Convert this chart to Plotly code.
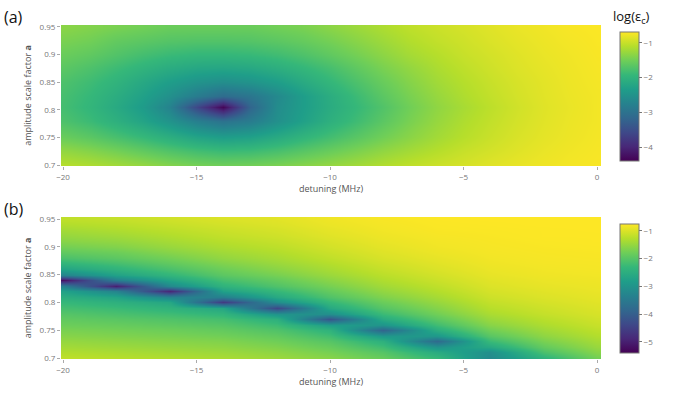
import numpy as np
import plotly.graph_objects as go

# ---------------- data ----------------
# panel (a): detuning columns (MHz) and amplitude-scale-factor rows
det_a = [-20, -19, -18, -17, -16, -15, -14, -13, -12, -11, -10,
         -9, -8, -7, -6, -5, -4, -3, -2, -1, 0]
amp_a = [0.70, 0.725, 0.75, 0.78, 0.805, 0.825, 0.85, 0.875, 0.90, 0.925, 0.95]
z_a = [
    [-1.10, -1.15, -1.22, -1.30, -1.40, -1.48, -1.52, -1.50, -1.45, -1.38, -1.30, -1.22, -1.13, -1.05, -0.98, -0.92, -0.86, -0.81, -0.77, -0.74, -0.72],
    [-1.30, -1.38, -1.48, -1.60, -1.72, -1.82, -1.88, -1.86, -1.78, -1.67, -1.55, -1.43, -1.31, -1.20, -1.10, -1.00, -0.93, -0.86, -0.80, -0.76, -0.73],
    [-1.55, -1.65, -1.78, -1.92, -2.08, -2.25, -2.35, -2.30, -2.15, -1.98, -1.82, -1.66, -1.50, -1.35, -1.21, -1.09, -0.99, -0.90, -0.83, -0.78, -0.74],
    [-1.75, -1.88, -2.05, -2.25, -2.50, -2.80, -3.00, -2.85, -2.55, -2.30, -2.05, -1.85, -1.65, -1.45, -1.28, -1.14, -1.03, -0.93, -0.85, -0.79, -0.75],
    [-1.82, -1.96, -2.15, -2.38, -2.75, -3.60, -4.35, -3.20, -2.60, -2.35, -2.12, -1.92, -1.72, -1.50, -1.32, -1.18, -1.06, -0.95, -0.86, -0.80, -0.75],
    [-1.80, -1.93, -2.10, -2.30, -2.55, -2.85, -3.10, -2.95, -2.65, -2.35, -2.10, -1.87, -1.65, -1.45, -1.28, -1.14, -1.03, -0.93, -0.85, -0.79, -0.75],
    [-1.75, -1.86, -2.00, -2.18, -2.35, -2.50, -2.58, -2.50, -2.35, -2.15, -1.95, -1.75, -1.56, -1.38, -1.22, -1.10, -1.00, -0.91, -0.84, -0.78, -0.74],
    [-1.65, -1.75, -1.87, -2.00, -2.12, -2.20, -2.22, -2.18, -2.08, -1.95, -1.80, -1.62, -1.45, -1.30, -1.16, -1.05, -0.96, -0.88, -0.82, -0.77, -0.73],
    [-1.55, -1.62, -1.72, -1.82, -1.90, -1.95, -1.95, -1.92, -1.85, -1.75, -1.62, -1.48, -1.34, -1.20, -1.10, -1.00, -0.93, -0.86, -0.80, -0.76, -0.72],
    [-1.45, -1.50, -1.60, -1.65, -1.70, -1.72, -1.72, -1.70, -1.65, -1.58, -1.48, -1.36, -1.24, -1.12, -1.03, -0.96, -0.89, -0.83, -0.78, -0.74, -0.71],
    [-1.35, -1.40, -1.45, -1.50, -1.55, -1.55, -1.55, -1.55, -1.50, -1.45, -1.35, -1.25, -1.15, -1.05, -0.98, -0.92, -0.86, -0.80, -0.76, -0.72, -0.70],
]

# panel (b): columns every 2 MHz, each list runs over amp_b (0.70 ... 0.95)
det_b = [-20, -18, -16, -14, -12, -10, -8, -6, -4, -2, 0]
amp_b = [0.70, 0.71, 0.72, 0.73, 0.74, 0.75, 0.76, 0.77, 0.78, 0.79, 0.80, 0.81, 0.82,
         0.83, 0.84, 0.85, 0.86, 0.87, 0.88, 0.89, 0.90, 0.91, 0.92, 0.93, 0.94, 0.95]
col_m20 = [-1.20, -1.30, -1.40, -1.50, -1.60, -1.70, -1.80, -1.90, -2.00, -2.15, -2.30, -2.50, -2.75,
           -3.40, -5.20, -3.30, -2.70, -2.35, -2.10, -1.90, -1.75, -1.60, -1.50, -1.40, -1.30, -1.20]
col_m18 = [-1.25, -1.35, -1.45, -1.55, -1.65, -1.75, -1.85, -1.97, -2.10, -2.25, -2.45, -2.70, -3.30,
           -5.00, -3.40, -2.75, -2.40, -2.15, -1.95, -1.80, -1.65, -1.52, -1.42, -1.32, -1.24, -1.16]
col_m16 = [-1.30, -1.40, -1.50, -1.60, -1.70, -1.80, -1.92, -2.05, -2.20, -2.40, -2.65, -3.30, -4.90,
           -3.20, -2.70, -2.35, -2.10, -1.90, -1.75, -1.60, -1.48, -1.38, -1.30, -1.22, -1.15, -1.08]
col_m14 = [-1.35, -1.45, -1.55, -1.65, -1.76, -1.88, -2.00, -2.15, -2.35, -2.65, -4.60, -3.40, -2.75,
           -2.40, -2.15, -1.95, -1.80, -1.65, -1.52, -1.42, -1.33, -1.25, -1.18, -1.12, -1.06, -1.00]
col_m12 = [-1.45, -1.55, -1.66, -1.78, -1.90, -2.05, -2.22, -2.45, -3.00, -4.40, -3.10, -2.60, -2.30,
           -2.05, -1.88, -1.72, -1.58, -1.46, -1.37, -1.29, -1.22, -1.15, -1.09, -1.04, -0.99, -0.95]
col_m10 = [-1.60, -1.72, -1.85, -2.00, -2.18, -2.40, -2.80, -4.20, -3.10, -2.60, -2.30, -2.05, -1.87,
           -1.72, -1.58, -1.46, -1.36, -1.27, -1.19, -1.12, -1.06, -1.01, -0.96, -0.92, -0.88, -0.85]
col_m8 = [-1.85, -2.00, -2.20, -2.45, -2.90, -3.90, -3.00, -2.55, -2.25, -2.00, -1.82, -1.66, -1.52,
          -1.41, -1.31, -1.23, -1.15, -1.08, -1.02, -0.97, -0.93, -0.89, -0.86, -0.83, -0.81, -0.79]
col_m6 = [-2.30, -2.55, -3.00, -3.80, -2.95, -2.50, -2.20, -1.95, -1.77, -1.62, -1.49, -1.38, -1.28,
          -1.20, -1.12, -1.06, -1.00, -0.95, -0.91, -0.87, -0.84, -0.82, -0.80, -0.78, -0.77, -0.76]
col_m4 = [-3.20, -3.10, -2.60, -2.25, -1.98, -1.77, -1.60, -1.46, -1.35, -1.25, -1.17, -1.10, -1.04,
          -0.99, -0.95, -0.91, -0.88, -0.85, -0.83, -0.81, -0.80, -0.79, -0.78, -0.77, -0.76, -0.75]
col_m2 = [-2.40, -2.10, -1.88, -1.70, -1.55, -1.43, -1.33, -1.24, -1.16, -1.10, -1.04, -0.99, -0.95,
          -0.91, -0.88, -0.85, -0.83, -0.81, -0.80, -0.79, -0.78, -0.77, -0.76, -0.76, -0.75, -0.75]
col_0 = [-1.75, -1.60, -1.48, -1.38, -1.29, -1.21, -1.14, -1.08, -1.03, -0.99, -0.95, -0.92, -0.89,
         -0.87, -0.85, -0.83, -0.81, -0.80, -0.79, -0.78, -0.77, -0.76, -0.76, -0.75, -0.75, -0.75]

x_ticks = [-20, -15, -10, -5, 0]
y_ticks = [0.7, 0.75, 0.8, 0.85, 0.9, 0.95]
cb_ticks_a = [-1, -2, -3, -4]
cb_ticks_b = [-1, -2, -3, -4, -5]

# ---------------- figure ----------------
z_b = np.array([col_m20, col_m18, col_m16, col_m14, col_m12, col_m10,
                col_m8, col_m6, col_m4, col_m2, col_0]).T

W, H = 673, 395
def px_x(p):
    return p / W
def px_y(p):
    return 1 - p / H

FONT = "Open Sans, DejaVu Sans, sans-serif"
tick_font = dict(family=FONT, size=8, color="#777")
title_font = dict(family=FONT, size=9, color="#555")

def cbar(top, bottom, ticks):
    return dict(
        x=px_x(620), xanchor="left", xpad=0, thickness=19,
        y=px_y(top), yanchor="top", ypad=0, len=(bottom - top) / H, lenmode="fraction",
        outlinewidth=1, outlinecolor="#777",
        tickvals=ticks, ticks="outside", ticklen=3, tickcolor="#777",
        tickfont=tick_font,
    )

fig = go.Figure()
fig.add_trace(go.Heatmap(
    x=det_a, y=amp_a, z=z_a, colorscale="Viridis", zmin=-4.4, zmax=-0.69,
    zsmooth="best", xaxis="x", yaxis="y", colorbar=cbar(32, 161, cb_ticks_a),
))
fig.add_trace(go.Heatmap(
    x=det_b, y=amp_b, z=z_b, colorscale="Viridis", zmin=-5.4, zmax=-0.75,
    zsmooth="best", xaxis="x2", yaxis="y2", colorbar=cbar(224, 353, cb_ticks_b),
))

xdom = [px_x(61), px_x(601)]
xaxis_common = dict(
    domain=xdom, range=[-20.075, 0.15], tickvals=x_ticks, automargin=False,
    ticks="outside", ticklen=3, tickcolor="#aaa", tickfont=tick_font,
    showgrid=False, zeroline=False, showline=False,
    title=dict(text="detuning (MHz)", font=title_font, standoff=4),
)
yaxis_common = dict(
    range=[0.6982, 0.9536], tickvals=y_ticks, automargin=False,
    ticks="outside", ticklen=3, tickcolor="#aaa", tickfont=tick_font,
    showgrid=False, zeroline=False, showline=False,
    title=dict(text="amplitude scale factor <b>a</b>", font=title_font, standoff=6),
)

fig.update_layout(
    width=W, height=H,
    margin=dict(l=0, r=0, t=0, b=0, autoexpand=False),
    paper_bgcolor="white", plot_bgcolor="white",
    xaxis=dict(**xaxis_common, anchor="y"),
    yaxis=dict(**yaxis_common, domain=[px_y(166), px_y(25)], anchor="x"),
    xaxis2=dict(**xaxis_common, anchor="y2"),
    yaxis2=dict(**yaxis_common, domain=[px_y(359), px_y(217)], anchor="x2"),
    annotations=[
        dict(text="(a)", x=px_x(2), y=px_y(4), xref="paper", yref="paper",
             xanchor="left", yanchor="top", showarrow=False,
             font=dict(family=FONT, size=16, color="#111")),
        dict(text="(b)", x=px_x(2), y=px_y(196), xref="paper", yref="paper",
             xanchor="left", yanchor="top", showarrow=False,
             font=dict(family=FONT, size=16, color="#111")),
        dict(text="log(ε<sub>c</sub>)", x=px_x(631), y=px_y(29), xref="paper", yref="paper",
             xanchor="center", yanchor="bottom", showarrow=False,
             font=dict(family=FONT, size=13, color="#111")),
    ],
)

fig.write_html("out.html",
               config={"displayModeBar": False},
               post_script="document.body.style.margin='0';document.body.style.padding='0';")
